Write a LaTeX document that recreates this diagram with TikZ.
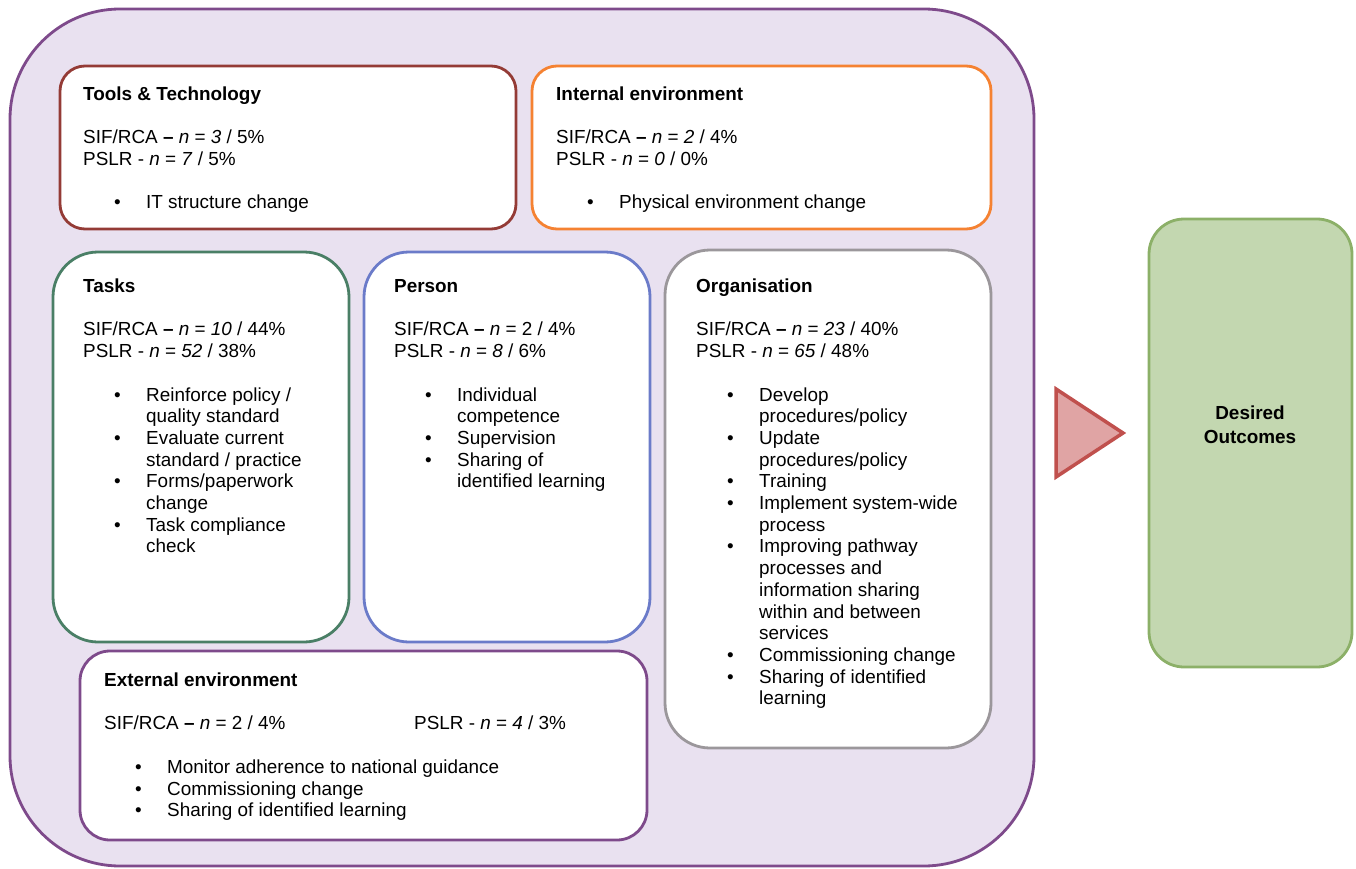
\documentclass[tikz,border=0pt]{standalone}
\usepackage{fontspec}
\setmainfont{Liberation Sans}
\newcommand\myline[1]{\hbox{#1}}
\newcommand\bul[1]{\hbox{\hspace*{31pt}\makebox[32pt][l]{•}#1}}
\newcommand\cnt[1]{\hbox{\hspace*{63pt}#1}}
\newcommand\blk[1]{\vtop{\baselineskip=21.7pt\lineskiplimit=-50pt\lineskip=0pt #1}}
\newcommand\edash{\textbf{–}}
\definecolor{outerfill}{HTML}{E9E1F0}
\definecolor{outerline}{HTML}{7E4A8B}
\definecolor{toolsline}{HTML}{943B36}
\definecolor{intline}{HTML}{F58232}
\definecolor{tasksline}{HTML}{4A7F66}
\definecolor{personline}{HTML}{6B7BC9}
\definecolor{orgline}{HTML}{9B979B}
\definecolor{extline}{HTML}{7E4A8B}
\definecolor{trifill}{HTML}{E0A4A4}
\definecolor{triline}{HTML}{C0504D}
\definecolor{desfill}{HTML}{C3D7B0}
\definecolor{desline}{HTML}{8CB068}
\begin{document}
\begin{tikzpicture}[x=1pt,y=-1pt,
  box/.style={draw, fill=white, line width=2.8pt, inner sep=0pt, rectangle},
  txt/.style={anchor=base west, inner sep=0pt, font=\fontsize{18.9}{21.7}\selectfont}]
\useasboundingbox (0,0) rectangle (1356,869);
\node[box, fill=outerfill, draw=outerline, rounded corners=110pt, minimum width=1024pt, minimum height=857pt] (outer) at (522,437.5) {};
\node[box, draw=toolsline, rounded corners=25pt, minimum width=456pt, minimum height=163pt] (tools) at (288,147.5) {};
\node[box, draw=intline, rounded corners=25pt, minimum width=459pt, minimum height=163pt] (internal) at (761.5,147.5) {};
\node[box, draw=tasksline, rounded corners=45pt, minimum width=296pt, minimum height=390pt] (tasks) at (201,447) {};
\node[box, draw=personline, rounded corners=45pt, minimum width=286pt, minimum height=390pt] (person) at (507,447) {};
\node[box, draw=orgline, rounded corners=45pt, minimum width=326pt, minimum height=498pt] (org) at (828,499) {};
\node[box, draw=extline, rounded corners=30pt, minimum width=567pt, minimum height=189pt] (ext) at (363.5,745.5) {};
\node[box, fill=desfill, draw=desline, rounded corners=35pt, minimum width=203pt, minimum height=448pt] (desired) at (1250.5,443) {};
\draw[fill=trifill, draw=triline, line width=3.5pt, line join=miter] (1056,389) -- (1123,433) -- (1056,477) -- cycle;

\node[txt] (tools-t) at (83,100.5) {\blk{%
  \myline{\textbf{Tools \& Technology}}\myline{}%
  \myline{SIF/RCA \edash{} \textit{n} = \textit{3} / 5\%}%
  \myline{PSLR - \textit{n} = \textit{7} / 5\%}\myline{}%
  \bul{IT structure change}}};
\node[txt] (internal-t) at (556,100.5) {\blk{%
  \myline{\textbf{Internal environment}}\myline{}%
  \myline{SIF/RCA \edash{} \textit{n} = \textit{2} / 4\%}%
  \myline{PSLR - \textit{n} = \textit{0} / 0\%}\myline{}%
  \bul{Physical environment change}}};
\node[txt] (tasks-t) at (83,292.5) {\blk{%
  \myline{\textbf{Tasks}}\myline{}%
  \myline{SIF/RCA \edash{} \textit{n} = \textit{10} / 44\%}%
  \myline{PSLR - \textit{n} = \textit{52} / 38\%}\myline{}%
  \bul{Reinforce policy /}\cnt{quality standard}%
  \bul{Evaluate current}\cnt{standard / practice}%
  \bul{Forms/paperwork}\cnt{change}%
  \bul{Task compliance}\cnt{check}}};
\node[txt] (person-t) at (394,292.5) {\blk{%
  \myline{\textbf{Person}}\myline{}%
  \myline{SIF/RCA \edash{} \textit{n} = 2 / 4\%}%
  \myline{PSLR - \textit{n} = \textit{8} / 6\%}\myline{}%
  \bul{Individual}\cnt{competence}%
  \bul{Supervision}%
  \bul{Sharing of}\cnt{identified learning}}};
\node[txt] (org-t) at (696,292.5) {\blk{%
  \myline{\textbf{Organisation}}\myline{}%
  \myline{SIF/RCA \edash{} \textit{n} = \textit{23} / 40\%}%
  \myline{PSLR - \textit{n} = \textit{65} / 48\%}\myline{}%
  \bul{Develop}\cnt{procedures/policy}%
  \bul{Update}\cnt{procedures/policy}%
  \bul{Training}%
  \bul{Implement system-wide}\cnt{process}%
  \bul{Improving pathway}\cnt{processes and}\cnt{information sharing}\cnt{within and between}\cnt{services}%
  \bul{Commissioning change}%
  \bul{Sharing of identified}\cnt{learning}}};
\node[txt] (ext-t) at (104,686.5) {\blk{%
  \myline{\textbf{External environment}}\myline{}%
  \myline{\makebox[310pt][l]{SIF/RCA \edash{} \textit{n} = 2 / 4\%}PSLR - \textit{n} = \textit{4} / 3\%}\myline{}%
  \bul{Monitor adherence to national guidance}%
  \bul{Commissioning change}%
  \bul{Sharing of identified learning}}};
\node[align=center, inner sep=0pt, font=\fontsize{18.9}{24}\selectfont\bfseries] (desired-t) at (1250,424.5) {Desired\\Outcomes};
\end{tikzpicture}
\end{document}
